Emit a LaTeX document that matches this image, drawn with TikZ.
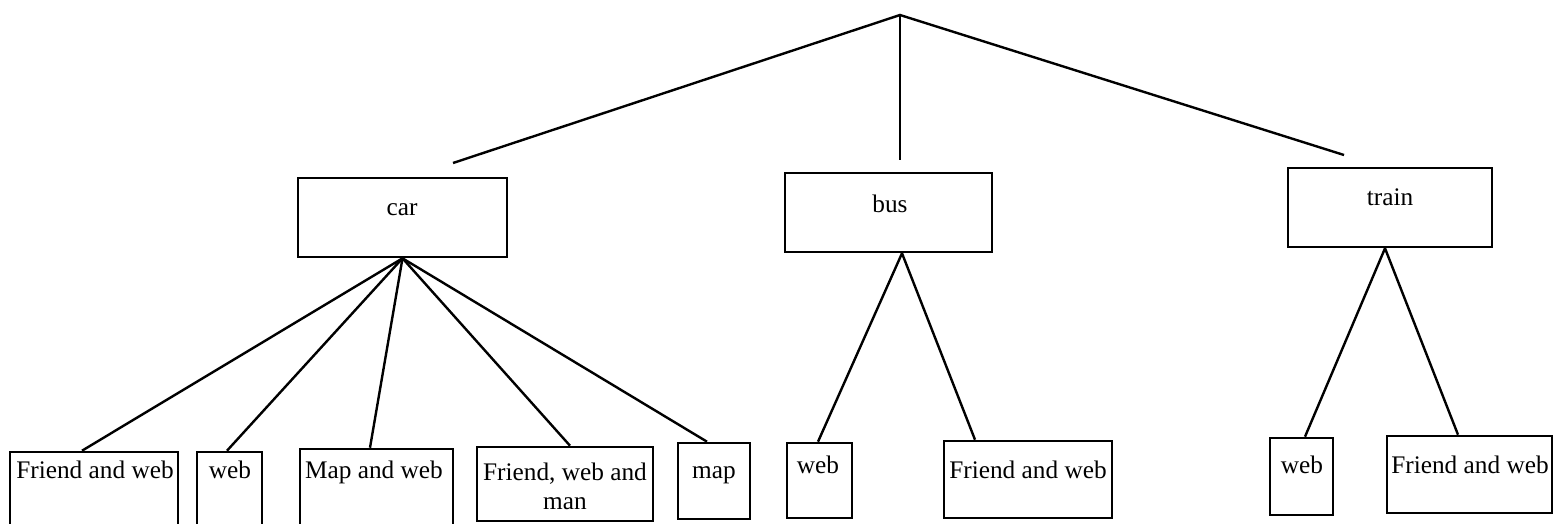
\documentclass[tikz,border=0pt]{standalone}
\usepackage{fontspec}
\setmainfont{Liberation Serif}
\begin{document}
\begin{tikzpicture}[x=1pt,y=-1pt,
  box/.style={draw=black, line width=2.6pt, rectangle, inner sep=0pt, fill=none},
  lbl/.style={anchor=base, inner sep=0pt, font=\fontsize{25.3}{29}\selectfont},
  conn/.style={draw=black, line width=2.4pt}]
\useasboundingbox (0,0) rectangle (1564,523);
% top
\coordinate (apex) at (900,15);
\coordinate (endL) at (453,163);
\coordinate (endM) at (900,160);
\coordinate (endR) at (1344,155);
\draw[conn] (endL) -- (apex) -- (endR);
\draw[conn] (apex) -- (endM);
% middle boxes
\node[box, minimum width=209pt, minimum height=79pt] (car) at (402.5,217.5) {};
\node[lbl] (cart) at (402,215) {car};
\node[box, minimum width=207pt, minimum height=79pt] (bus) at (888.5,212.5) {};
\node[lbl] (bust) at (890,212) {bus};
\node[box, minimum width=204pt, minimum height=79pt] (train) at (1390,207.5) {};
\node[lbl] (traint) at (1390,205) {train};
% bottom boxes
\node[box, minimum width=168pt, minimum height=80pt] (b1) at (94,492) {};
\node[lbl] (b1t) at (95,478) {Friend and web};
\node[box, minimum width=65pt, minimum height=80pt] (b2) at (229.5,492) {};
\node[lbl] (b2t) at (230,478) {web};
\node[box, minimum width=153pt, minimum height=76pt] (b3) at (376.5,487) {};
\node[lbl] (b3t) at (374,478) {Map and web};
\node[box, minimum width=176pt, minimum height=74pt] (b4) at (565,484) {};
\node[lbl] (b4t) at (565,480) {Friend, web and};
\node[lbl] (b4u) at (565,509) {man};
\node[box, minimum width=72pt, minimum height=76pt] (b5) at (714,481) {};
\node[lbl] (b5t) at (714,478) {map};
\node[box, minimum width=65pt, minimum height=75pt] (b6) at (819.5,480.5) {};
\node[lbl] (b6t) at (818,473) {web};
\node[box, minimum width=168pt, minimum height=77pt] (b7) at (1028,479.5) {};
\node[lbl] (b7t) at (1028,478) {Friend and web};
\node[box, minimum width=63pt, minimum height=77pt] (b8) at (1301.5,476.5) {};
\node[lbl] (b8t) at (1302,473) {web};
\node[box, minimum width=165pt, minimum height=77pt] (b9) at (1469.5,474.5) {};
\node[lbl] (b9t) at (1470,473) {Friend and web};
% connectors
\draw[conn] (car.south) -- ([xshift=-12pt]b1.north);
\draw[conn] (car.south) -- ([xshift=-2.5pt]b2.north);
\draw[conn] (car.south) -- ([xshift=-6.5pt]b3.north);
\draw[conn] (car.south) -- ([xshift=5pt]b4.north);
\draw[conn] (car.south) -- ([xshift=-7pt]b5.north);
\draw[conn] ([xshift=13.5pt]bus.south) -- ([xshift=-1.5pt]b6.north);
\draw[conn] ([xshift=13.5pt]bus.south) -- ([xshift=-53pt]b7.north);
\draw[conn] ([xshift=-5pt]train.south) -- ([xshift=3.5pt]b8.north);
\draw[conn] ([xshift=-5pt]train.south) -- ([xshift=-11.5pt]b9.north);
\end{tikzpicture}
\end{document}
